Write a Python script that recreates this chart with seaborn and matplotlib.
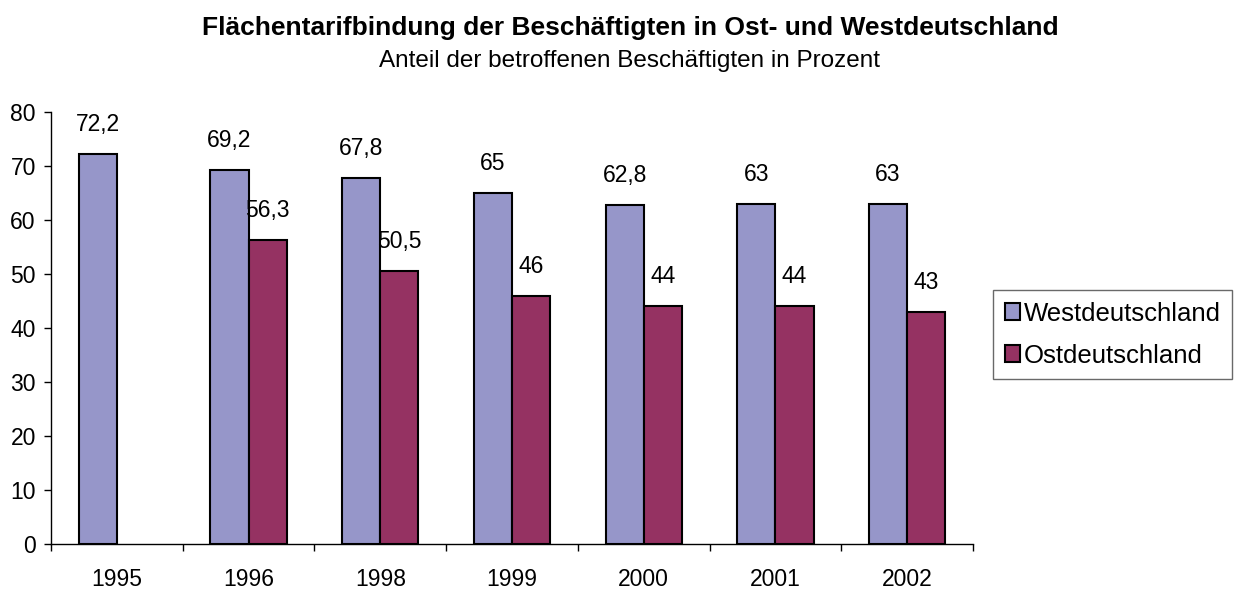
import numpy as np
import pandas as pd
import matplotlib
matplotlib.use("Agg")
import matplotlib.pyplot as plt
import seaborn as sns
from matplotlib.ticker import FixedLocator

years = ["1995", "1996", "1998", "1999", "2000", "2001", "2002"]
west = [72.2, 69.2, 67.8, 65, 62.8, 63, 63]
east = [np.nan, 56.3, 50.5, 46, 44, 44, 43]
series_names = ["Westdeutschland", "Ostdeutschland"]
colors = ["#9696C9", "#953262"]

title = "Flächentarifbindung der Beschäftigten in Ost- und Westdeutschland"
subtitle = "Anteil der betroffenen Beschäftigten in Prozent"

rows = []
for y, w, e in zip(years, west, east):
    rows.append({"Jahr": y, "Region": series_names[0], "Wert": w})
    if not np.isnan(e):
        rows.append({"Jahr": y, "Region": series_names[1], "Wert": e})
df = pd.DataFrame(rows)

sns.set_theme(style="white")
plt.rcParams["font.family"] = ["Liberation Sans", "DejaVu Sans"]
plt.rcParams["text.color"] = "black"
plt.rcParams["xtick.color"] = "black"
plt.rcParams["ytick.color"] = "black"
plt.rcParams["axes.labelcolor"] = "black"

fig = plt.figure(figsize=(12.45, 5.9), dpi=100)
ax = fig.add_axes([0.041, 0.078, 0.7405, 0.732])

sns.barplot(data=df, x="Jahr", y="Wert", hue="Region", order=years,
            hue_order=series_names, palette=colors, width=0.58,
            edgecolor="black", linewidth=1.5, errorbar=None, ax=ax,
            saturation=1)

def fmt(v):
    if np.isnan(v):
        return ""
    return f"{v:g}".replace(".", ",")

for c in ax.containers:
    ax.bar_label(c, labels=[fmt(v) for v in c.datavalues], padding=13,
                 fontsize=16.5, color="black")

ax.set_ylim(0, 80)
ax.set_yticks(range(0, 81, 10))
ax.set_xlim(-0.5, len(years) - 0.5)
ax.set_xlabel("")
ax.set_ylabel("")
ax.tick_params(axis="y", which="major", direction="out", length=5, width=1,
               color="black", labelsize=16.5, pad=6, left=True)
ax.tick_params(axis="x", which="major", length=0, labelsize=16.5, pad=17)
ax.xaxis.set_minor_locator(FixedLocator(np.arange(-0.5, len(years), 1.0)))
ax.tick_params(axis="x", which="minor", direction="out", length=5, width=1,
               color="black", bottom=True)
for s in ["top", "right"]:
    ax.spines[s].set_visible(False)
for s in ["left", "bottom"]:
    ax.spines[s].set_color("black")
    ax.spines[s].set_linewidth(1)

leg = ax.legend(loc="upper left", bbox_to_anchor=(0.7976, 0.5085),
                bbox_transform=fig.transFigure, fontsize=18.5, frameon=True,
                fancybox=False, edgecolor="#444444", handlelength=0.6,
                handleheight=0.6, handletextpad=0.15, borderpad=0.45,
                labelspacing=0.7, borderaxespad=0)
leg.get_frame().set_linewidth(1)

fig.text(0.506, 0.953, title, ha="center", va="center", fontsize=19,
         fontweight="bold")
fig.text(0.506, 0.897, subtitle, ha="center", va="center", fontsize=17.5)

fig.savefig("out.png", dpi=100, facecolor="white")
